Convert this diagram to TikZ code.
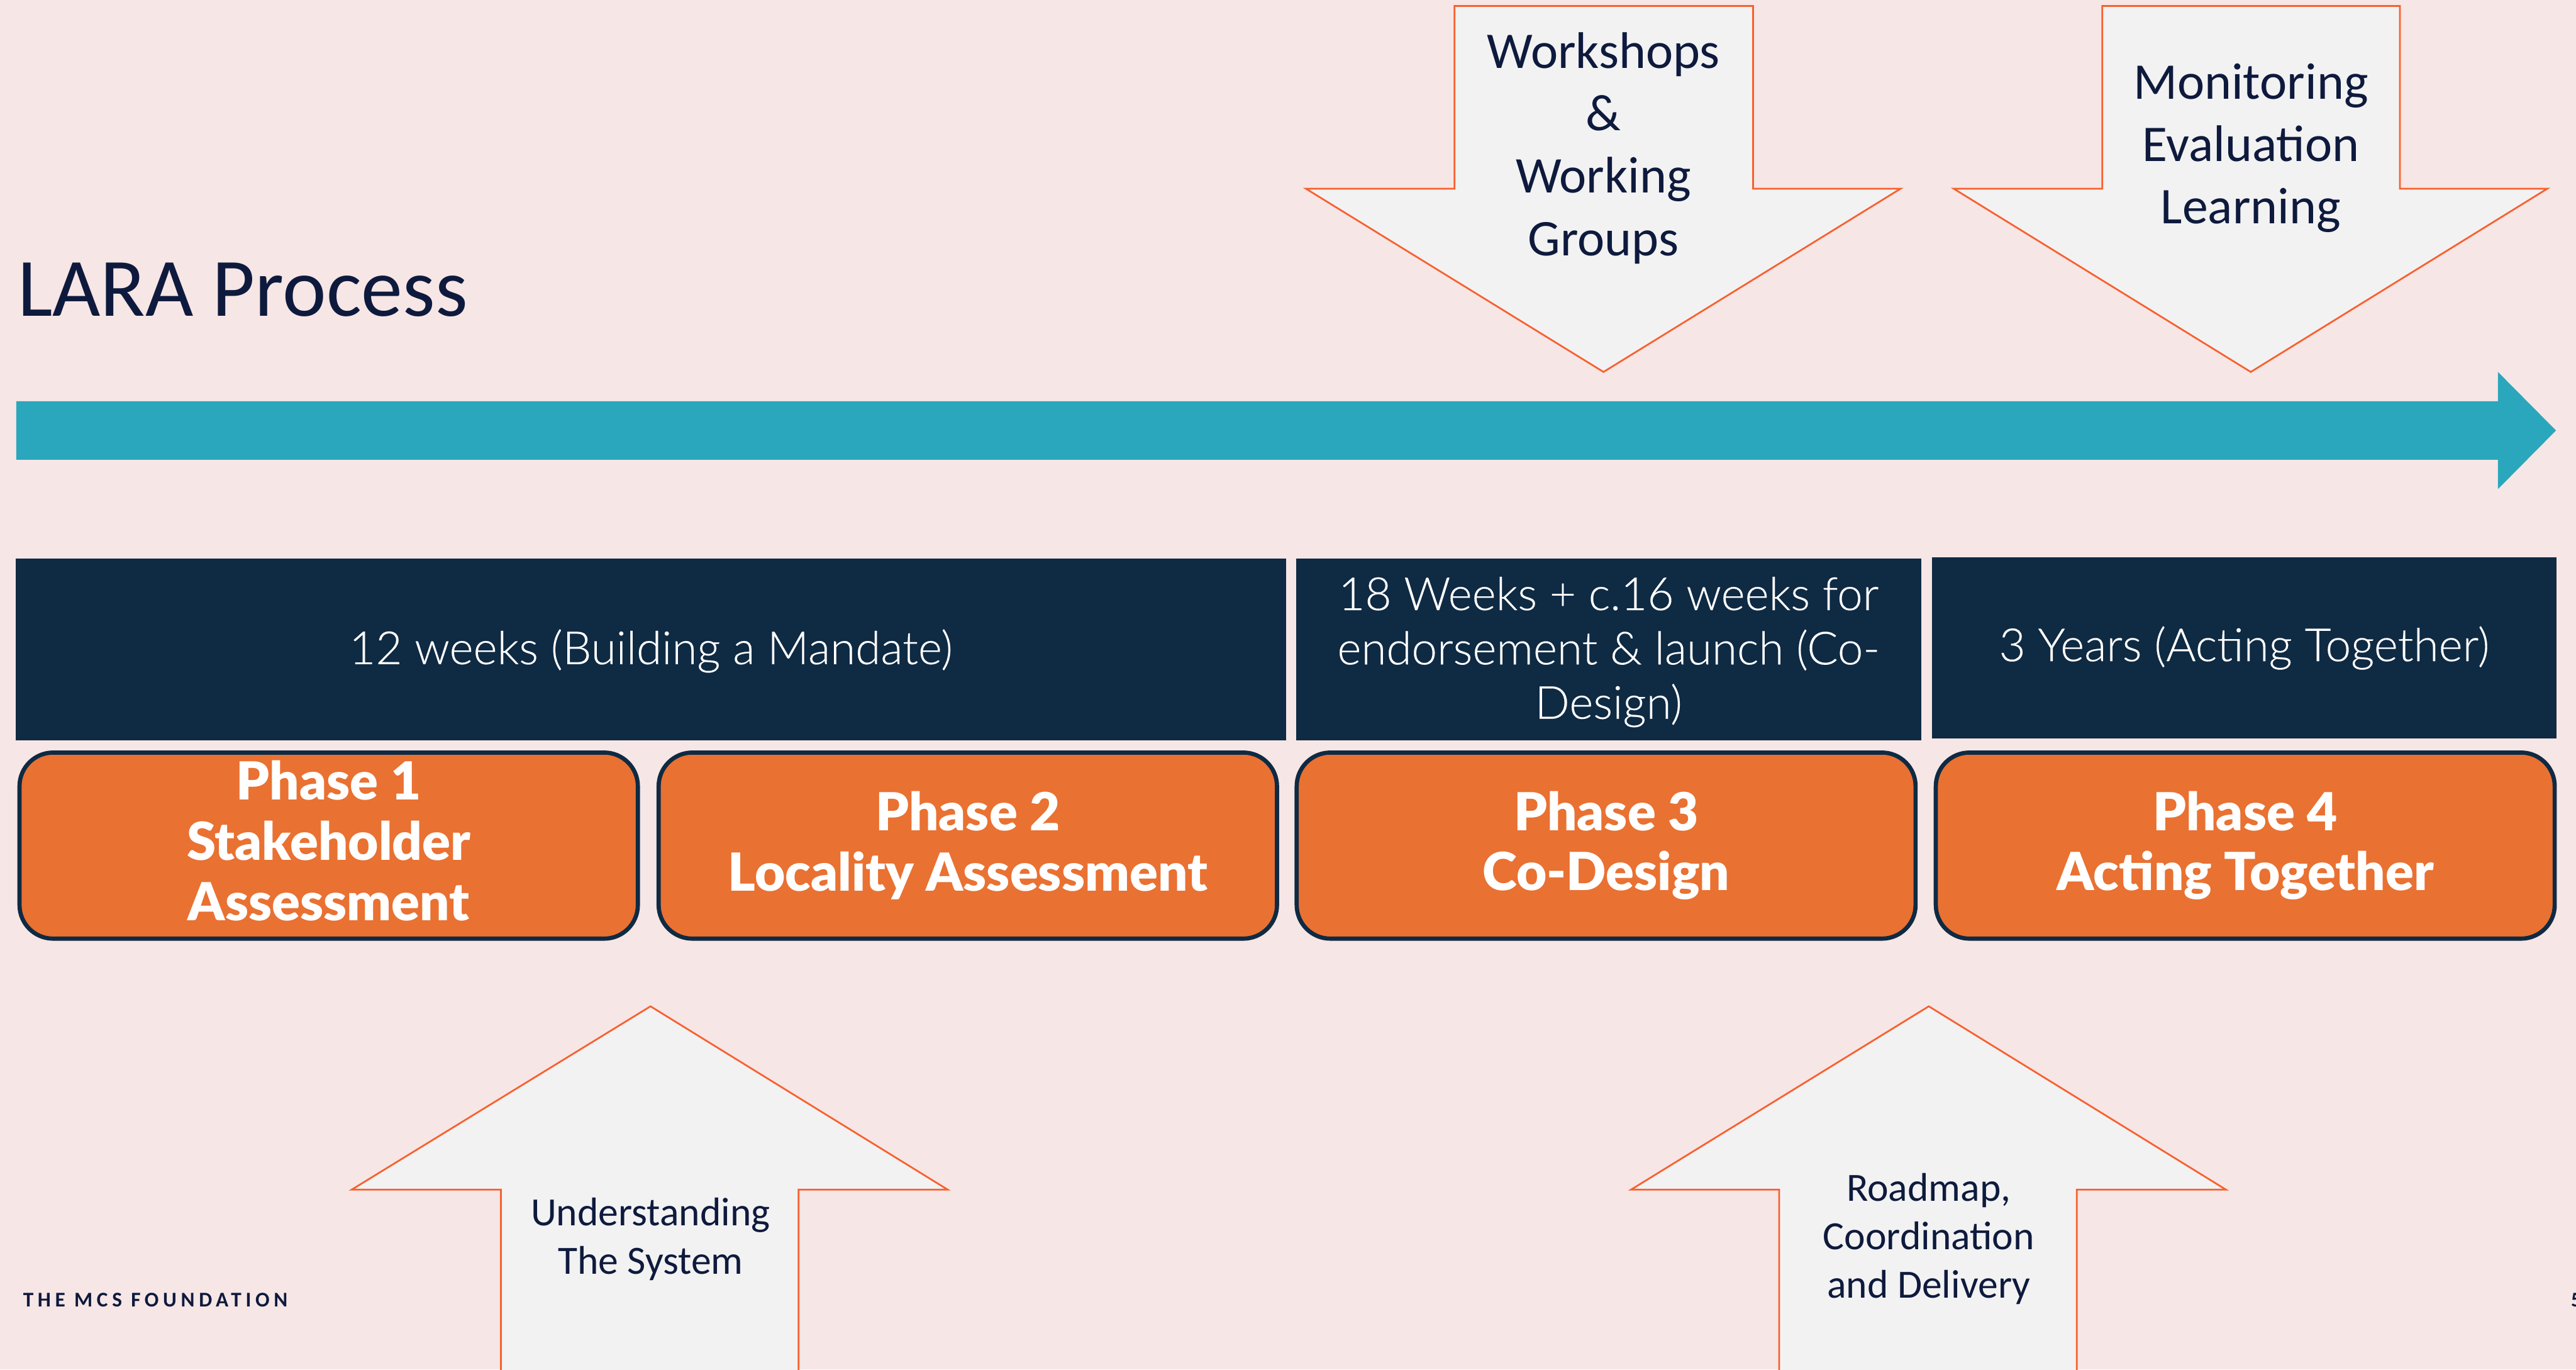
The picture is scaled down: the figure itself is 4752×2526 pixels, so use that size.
\documentclass[tikz,border=0pt]{standalone}
\usepackage{fontspec}
\setmainfont{Carlito}
\newfontfamily\latolight[FakeBold=0.2]{Lato Light}
\newfontfamily\latoblack{Lato Black}
\newfontfamily\spaced[LetterSpace=20]{Carlito}
\definecolor{bgc}{HTML}{F6E6E5}
\definecolor{tealc}{HTML}{2AA7BC}
\definecolor{navyc}{HTML}{0F2A43}
\definecolor{orangec}{HTML}{E97132}
\definecolor{arrowfill}{HTML}{F2F2F2}
\definecolor{arrowline}{HTML}{F8602F}
\definecolor{inkc}{HTML}{0E1A3D}
\tikzset{
  x=0.01cm,y=-0.01cm,
  callout/.style={fill=arrowfill,draw=arrowline,line width=0.9pt,line join=miter},
  bigtext/.style={text=inkc,align=flush center,font=\fontsize{27}{32.8}\selectfont,inner sep=0pt},
  smalltext/.style={text=inkc,align=flush center,font=\fontsize{21}{25.4}\selectfont,inner sep=0pt},
  darkbox/.style={fill=navyc,draw=none,anchor=north west,inner sep=0pt,outer sep=0pt},
  darktext/.style={text=white,align=flush center,inner sep=0pt,font=\latolight\fontsize{24}{28.5}\selectfont},
  phasebox/.style={fill=orangec,draw=navyc,line width=2.2pt,rounded corners=0.62cm,anchor=north west,inner sep=0pt,outer sep=0pt},
  phasetext/.style={text=white,align=flush center,inner sep=0pt,font=\latoblack\fontsize{27.5}{31.6}\selectfont},
}
\begin{document}
\begin{tikzpicture}
\useasboundingbox (0,0) rectangle (4752,2526);
\fill[bgc] (0,0) rectangle (4752,2526);
% timeline
\fill[tealc] (30,740) -- (4608,740) -- (4608,686) -- (4715,794) -- (4608,902) -- (4608,848) -- (30,848) -- cycle;
% title
\node[anchor=west,text=inkc,font=\fontsize{43.5}{50}\selectfont,inner sep=0pt] (title) at (32,535) {LARA Process};
% down arrows
\draw[callout] (2683,11) -- (3234,11) -- (3234,348) -- (3506,348) -- (2958,686) -- (2409,348) -- (2683,348) -- cycle;
\draw[callout] (3878,11) -- (4427,11) -- (4427,348) -- (4699,348) -- (4152,686) -- (3604,348) -- (3878,348) -- cycle;
\node[bigtext] (workshops) at (2958,273) {Workshops\\\&\\Working\\Groups};
\node[bigtext] (monitoring) at (4152,273) {Monitoring\\Evaluation\\Learning};
% up arrows
\draw[callout] (1200,1856) -- (1748,2194) -- (1473,2194) -- (1473,2540) -- (924,2540) -- (924,2194) -- (649,2194) -- cycle;
\draw[callout] (3558,1856) -- (4106,2194) -- (3831,2194) -- (3831,2540) -- (3282,2540) -- (3282,2194) -- (3009,2194) -- cycle;
\node[smalltext] (understanding) at (1200,2285) {Understanding\\The System};
\node[smalltext] (roadmap) at (3558,2285) {Roadmap,\\Coordination\\and Delivery};
% duration bars
\node[darkbox,minimum width=23.42cm,minimum height=3.35cm] (d1) at (29,1030) {};
\node[darkbox,minimum width=11.52cm,minimum height=3.35cm] (d2) at (2391,1030) {};
\node[darkbox,minimum width=11.51cm,minimum height=3.34cm] (d3) at (3564,1028) {};
\node[darktext,yshift=-0.03cm] (d1t) at (d1.center) {12 weeks (Building a Mandate)};
\node[darktext,yshift=-0.05cm] (d2t) at (d2.center) {18 Weeks + c.16 weeks for\\endorsement \& launch (Co-\\Design)};
\node[darktext] (d3t) at (d3.center) {3 Years (Acting Together)};
% phases
\node[phasebox,minimum width=11.40cm,minimum height=3.43cm] (p1) at (36,1388) {};
\node[phasebox,minimum width=11.40cm,minimum height=3.43cm] (p2) at (1215,1388) {};
\node[phasebox,minimum width=11.41cm,minimum height=3.43cm] (p3) at (2392,1388) {};
\node[phasebox,minimum width=11.41cm,minimum height=3.43cm] (p4) at (3571,1388) {};
\node[phasetext,yshift=0.09cm] (p1t) at (p1.center) {Phase 1\\Stakeholder\\Assessment};
\node[phasetext] (p2t) at (p2.center) {Phase 2\\Locality Assessment};
\node[phasetext] (p3t) at (p3.center) {Phase 3\\Co-Design};
\node[phasetext] (p4t) at (p4.center) {Phase 4\\Acting Together};
% footer
\node[anchor=west,text=inkc,font=\spaced\bfseries\fontsize{11}{13}\selectfont,inner sep=0pt] (foot) at (42,2398) {THE MCS FOUNDATION};
\node[anchor=west,text=inkc,font=\bfseries\fontsize{11}{13}\selectfont,inner sep=0pt] (pageno) at (4742,2398) {5};
\end{tikzpicture}
\end{document}
